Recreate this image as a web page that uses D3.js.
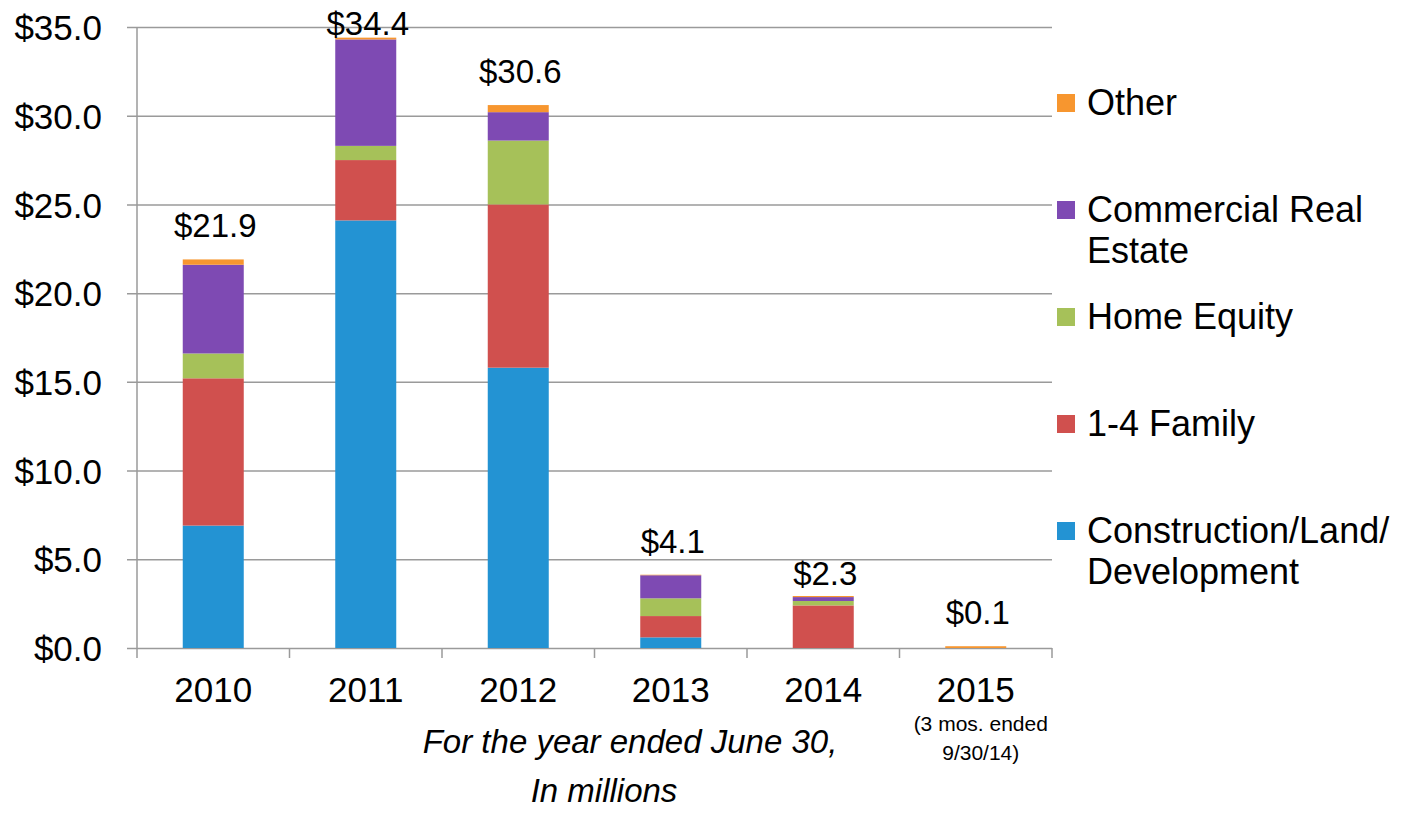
<!DOCTYPE html>
<html>
<head>
<meta charset="utf-8">
<script src="https://cdn.jsdelivr.net/npm/d3@7"></script>
<style>
  body { margin: 0; background: #fff; }
  svg text { font-family: "Liberation Sans", Arial, sans-serif; fill: #000; }
</style>
</head>
<body>
<div id="chart"></div>
<script>
// data, in millions
var years = ["2010", "2011", "2012", "2013", "2014", "2015"];
var construction = [6.9, 24.1, 15.8, 0.6, 0.0, 0.0];
var family14 = [8.3, 3.4, 9.2, 1.2, 2.4, 0.0];
var homeEquity = [1.4, 0.8, 3.6, 1.0, 0.25, 0.0];
var commercial = [5.0, 6.0, 1.6, 1.3, 0.22, 0.0];
var other = [0.3, 0.1, 0.4, 0.03, 0.06, 0.1];
var totals = [21.9, 34.4, 30.6, 4.1, 2.3, 0.1];
var yTicks = [0, 5, 10, 15, 20, 25, 30, 35];

var seriesKeys = ["construction", "family14", "homeEquity", "commercial", "other"];
var colors = ["#2393d3", "#d0504e", "#a6c159", "#7e4ab3", "#f7962f"];

var rows = years.map(function (y, i) {
    return {
        year: y,
        construction: construction[i],
        family14: family14[i],
        homeEquity: homeEquity[i],
        commercial: commercial[i],
        other: other[i]
    };
});

var W = 1428, H = 815;
var plotLeft = 137, plotRight = 1052, plotTop = 27, plotBottom = 648;

var svg = d3.select("#chart").append("svg")
    .attr("width", W)
    .attr("height", H);

var x = d3.scaleBand()
    .domain(years)
    .range([plotLeft, plotRight])
    .paddingInner(0.6)
    .paddingOuter(0.3);

var y = d3.scaleLinear()
    .domain([0, 35])
    .range([plotBottom, plotTop]);

// gridlines + y labels
var yAxis = d3.axisLeft(y)
    .tickValues(yTicks)
    .tickSize(-(plotRight - plotLeft))
    .tickSizeOuter(0)
    .tickPadding(35)
    .tickFormat(function (d) { return "$" + d.toFixed(1); });

var gy = svg.append("g")
    .attr("transform", "translate(" + plotLeft + ",0)")
    .call(yAxis);
gy.select(".domain").remove();
gy.selectAll(".tick line")
    .attr("x1", -10)
    .attr("stroke", "#9a9a9a")
    .attr("stroke-width", 1.5);
gy.selectAll(".tick text")
    .style("font-size", "35px")
    .attr("dy", "0.36em");

// vertical axis line
svg.append("line")
    .attr("x1", plotLeft).attr("x2", plotLeft)
    .attr("y1", plotTop).attr("y2", plotBottom + 10)
    .attr("stroke", "#9a9a9a")
    .attr("stroke-width", 1.5);

// x tick marks between the categories
var step = x.step();
var bounds = years.map(function (d) { return x(d) - x.paddingInner() * step / 2; }).slice(1);
svg.append("g").selectAll("line")
    .data(bounds.concat([plotRight]))
    .join("line")
    .attr("x1", function (d) { return d; })
    .attr("x2", function (d) { return d; })
    .attr("y1", plotBottom)
    .attr("y2", plotBottom + 10)
    .attr("stroke", "#9a9a9a")
    .attr("stroke-width", 1.5);

// stacked bars
var stack = d3.stack().keys(seriesKeys);
var layers = stack(rows);

svg.append("g").selectAll("g")
    .data(layers)
    .join("g")
    .attr("fill", function (d, i) { return colors[i]; })
    .selectAll("rect")
    .data(function (d) { return d; })
    .join("rect")
    .attr("x", function (d) { return x(d.data.year); })
    .attr("width", x.bandwidth())
    .attr("y", function (d) { return y(d[1]); })
    .attr("height", function (d) { return Math.max(0, y(d[0]) - y(d[1])); });

// total labels
svg.append("g").selectAll("text")
    .data(totals)
    .join("text")
    .attr("x", function (d, i) { return x(years[i]) + x.bandwidth() / 2 + 2; })
    .attr("y", function (d) { return Math.max(y(d) - 22, 35); })
    .attr("text-anchor", "middle")
    .style("font-size", "33px")
    .text(function (d) { return "$" + d.toFixed(1); });

// x labels
svg.append("g").selectAll("text")
    .data(years)
    .join("text")
    .attr("x", function (d) { return x(d) + x.bandwidth() / 2; })
    .attr("y", 702)
    .attr("text-anchor", "middle")
    .style("font-size", "35px")
    .text(function (d) { return d; });

var cx2015 = x("2015") + x.bandwidth() / 2 + 5;
svg.append("text")
    .attr("x", cx2015).attr("y", 731)
    .attr("text-anchor", "middle")
    .style("font-size", "21px")
    .text("(3 mos. ended");
svg.append("text")
    .attr("x", cx2015).attr("y", 760)
    .attr("text-anchor", "middle")
    .style("font-size", "21px")
    .text("9/30/14)");

// axis title
svg.append("text")
    .attr("x", 630).attr("y", 753)
    .attr("text-anchor", "middle")
    .style("font-size", "33px")
    .style("font-style", "italic")
    .text("For the year ended June 30,");
svg.append("text")
    .attr("x", 604).attr("y", 802)
    .attr("text-anchor", "middle")
    .style("font-size", "33px")
    .style("font-style", "italic")
    .text("In millions");

// legend, top to bottom: Other first
var legendItems = [
    { name: ["Other"], color: colors[4] },
    { name: ["Commercial Real", "Estate"], color: colors[3] },
    { name: ["Home Equity"], color: colors[2] },
    { name: ["1-4 Family"], color: colors[1] },
    { name: ["Construction/Land/", "Development"], color: colors[0] }
];

var lg = svg.append("g").selectAll("g")
    .data(legendItems)
    .join("g")
    .attr("transform", function (d, i) { return "translate(1057," + (115 + i * 107) + ")"; });

lg.append("rect")
    .attr("x", 0).attr("y", -21)
    .attr("width", 18).attr("height", 18)
    .attr("fill", function (d) { return d.color; });

lg.append("text")
    .style("font-size", "36px")
    .selectAll("tspan")
    .data(function (d) { return d.name; })
    .join("tspan")
    .attr("x", 30)
    .attr("y", function (d, i) { return i * 41; })
    .text(function (d) { return d; });
</script>
</body>
</html>
